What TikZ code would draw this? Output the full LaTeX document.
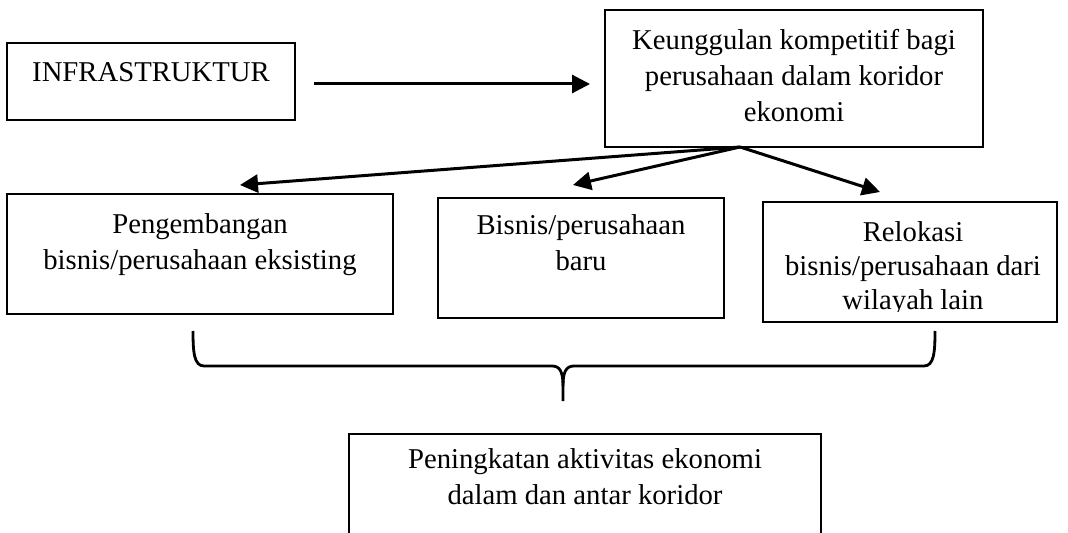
\documentclass[tikz,border=0pt]{standalone}
\usepackage{fontspec}
\setmainfont{Liberation Serif}
\usetikzlibrary{arrows.meta}
\begin{document}
\begin{tikzpicture}[x=0.5pt,y=-0.5pt,
  every node/.style={inner sep=0pt, outer sep=0pt},
  box/.style={draw, line width=0.8pt},
  txt/.style={align=center, font=\fontsize{14.35pt}{18pt}\selectfont},
  txttight/.style={align=center, font=\fontsize{14.35pt}{17pt}\selectfont},
  arr/.style={line width=1.5pt, -{Triangle[length=9pt,width=9pt]}},
  bracestroke/.style={line width=1.4pt}]
\useasboundingbox (0,0) rectangle (1068,533);

% boxes
\node[box, minimum width=144pt, minimum height=38.5pt] (infra) at (151,81.5) {};
\node[box, minimum width=189pt, minimum height=68.5pt] (keu) at (794,78.5) {};
\node[box, minimum width=193pt, minimum height=60pt] (lb) at (200,254) {};
\node[box, minimum width=143pt, minimum height=60pt] (mb) at (581,258) {};
\node[box, minimum width=147pt, minimum height=60pt] (rb) at (910,262) {};
\node[box, minimum width=236pt, minimum height=63pt] (bot) at (585,497) {};

% texts
\node[txt] (infraT) at (151,72) {INFRASTRUKTUR};
\node[txt] (keuT) at (794,76) {Keunggulan kompetitif bagi\\perusahaan dalam koridor\\ekonomi};
\node[txt] (lbT) at (200,245) {Pengembangan\\bisnis/perusahaan eksisting};
\node[txt] (mbT) at (581,243) {Bisnis/perusahaan\\baru};
\begin{scope}
  \clip (763,202) rectangle (1057,312);
  \node[txttight] (rbT) at (913,269) {Relokasi\\bisnis/perusahaan dari\\wilayah lain};
\end{scope}
\node[txt] (botT) at (585,476.5) {Peningkatan aktivitas ekonomi\\dalam dan antar koridor};

% arrows
\draw[arr] ([shift={(19,2.5)}]infra.east) -- ([shift={(-15,2.5)}]infra.east -| keu.west);
\coordinate (apex) at ([shift={(-54,0)}]keu.south);
\coordinate (tl) at ([shift={(40,-9)}]lb.north);
\coordinate (tm) at ([shift={(-8,-13)}]mb.north);
\coordinate (tr) at ([shift={(-30,-10)}]rb.north);
\draw[arr] (apex) -- (tl);
\draw[arr] (apex) -- (tm);
\draw[arr] (apex) -- (tr);

% brace
\coordinate (bl) at (193,331);
\coordinate (br) at (935,331);
\coordinate (bt) at (563,401);
\draw[bracestroke] (bl) .. controls (193,352) and (194,366) .. (204,366) -- (552,366)
  .. controls (560,366) and (563,372) .. (563,386) -- (bt);
\draw[bracestroke] (br) .. controls (935,352) and (934,366) .. (924,366) -- (574,366)
  .. controls (566,366) and (563,372) .. (563,386);
\end{tikzpicture}
\end{document}
